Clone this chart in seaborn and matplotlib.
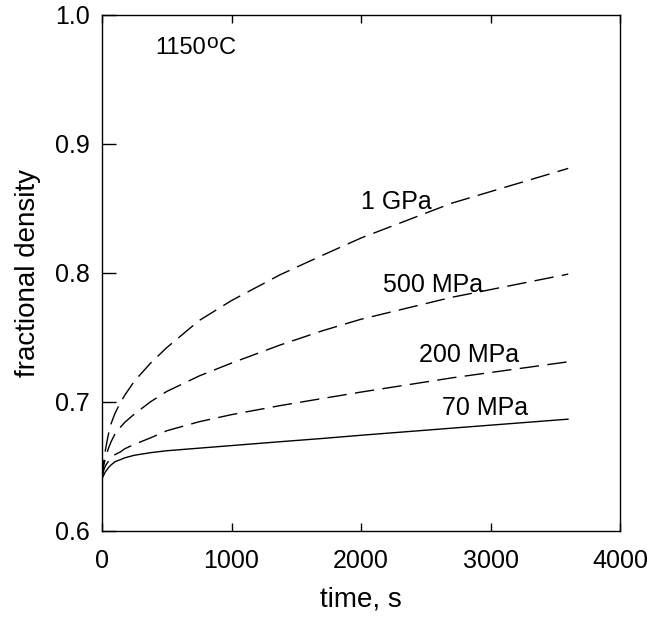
import matplotlib
matplotlib.use("Agg")
import matplotlib.pyplot as plt
import seaborn as sns
import pandas as pd

# ---- data ----
time_s = [0, 5, 10, 25, 40, 50, 70, 100, 140, 175, 250, 375, 500, 750, 1000, 1375, 1700, 2000, 2700, 3600]
dens_1gpa = [0.640, 0.648, 0.652, 0.662, 0.670, 0.675, 0.683, 0.691, 0.699, 0.705, 0.716, 0.730,
             0.742, 0.763, 0.7785, 0.7985, 0.8135, 0.827, 0.854, 0.881]
dens_500mpa = [0.640, 0.645, 0.649, 0.656, 0.661, 0.664, 0.669, 0.675, 0.680, 0.684, 0.6905, 0.700,
               0.708, 0.720, 0.730, 0.744, 0.755, 0.764, 0.781, 0.799]
dens_200mpa = [0.640, 0.643, 0.646, 0.650, 0.6525, 0.654, 0.6565, 0.659, 0.661, 0.6635, 0.667, 0.672,
               0.6775, 0.6845, 0.690, 0.697, 0.7025, 0.7075, 0.7185, 0.731]
dens_70mpa = [0.640, 0.6415, 0.6425, 0.6455, 0.6475, 0.649, 0.651, 0.6535, 0.655, 0.6565, 0.6585, 0.6605,
              0.662, 0.664, 0.666, 0.669, 0.6715, 0.674, 0.6795, 0.6865]

series_names = ["1 GPa", "500 MPa", "200 MPa", "70 MPa"]
series_values = [dens_1gpa, dens_500mpa, dens_200mpa, dens_70mpa]

# label anchor positions (data coords)
label_x = [2000, 2170, 2450, 2625]
label_y = [0.855, 0.7905, 0.736, 0.695]

x_ticks = [0, 1000, 2000, 3000, 4000]
y_ticks = [0.6, 0.7, 0.8, 0.9, 1.0]
y_tick_labels = ["0.6", "0.7", "0.8", "0.9", "1.0"]

rows = []
for name, vals in zip(series_names, series_values):
    for t, d in zip(time_s, vals):
        rows.append({"time": t, "density": d, "pressure": name})
df = pd.DataFrame(rows)

sns.set_theme(style="white")
plt.rcParams["font.family"] = ["Liberation Sans", "DejaVu Sans"]

fig = plt.figure(figsize=(6.47, 6.19), dpi=100)
ax = fig.add_axes([0.1577, 0.1427, 0.8006, 0.8331])

dash_map = {"1 GPa": (14, 6), "500 MPa": (14, 6), "200 MPa": (14, 6), "70 MPa": ""}
sns.lineplot(data=df, x="time", y="density", style="pressure", dashes=dash_map,
             style_order=series_names, color="black", linewidth=1.0,
             legend=False, ax=ax, sort=False)

for name, lx, ly in zip(series_names, label_x, label_y):
    ax.text(lx, ly, name, fontsize=18, ha="left", va="center", color="black")

# temperature label: "1150" + raised "o" + "C"
t1 = ax.text(410, 0.9695, "1150", fontsize=17, ha="left", va="baseline", color="black")
t2 = ax.annotate("o", xy=(1, 0), xycoords=t1, xytext=(0.3, 5.5), textcoords="offset points",
                 fontsize=15, ha="left", va="bottom", color="black")
t3 = ax.annotate("C", xy=(1, 0), xycoords=t2, xytext=(0.3, -5.5), textcoords="offset points",
                 fontsize=17, ha="left", va="bottom", color="black")

ax.set_xlim(0, 4000)
ax.set_ylim(0.6, 1.0)
ax.set_xticks(x_ticks)
ax.set_yticks(y_ticks)
ax.set_yticklabels(y_tick_labels)
ax.set_xlabel("time, s", fontsize=20, labelpad=10, color="black")
ax.set_ylabel("fractional density", fontsize=20, labelpad=10, color="black")

ax.tick_params(axis="x", direction="in", length=6, width=1, top=True, bottom=True,
               labelsize=18, pad=13, colors="black")
ax.tick_params(axis="y", direction="in", length=10, width=1, left=True, right=False,
               labelsize=18, pad=9, colors="black")
for sp in ax.spines.values():
    sp.set_visible(True)
    sp.set_color("black")
    sp.set_linewidth(1.0)
ax.grid(False)

fig.savefig("out.png", dpi=100, facecolor="white")
